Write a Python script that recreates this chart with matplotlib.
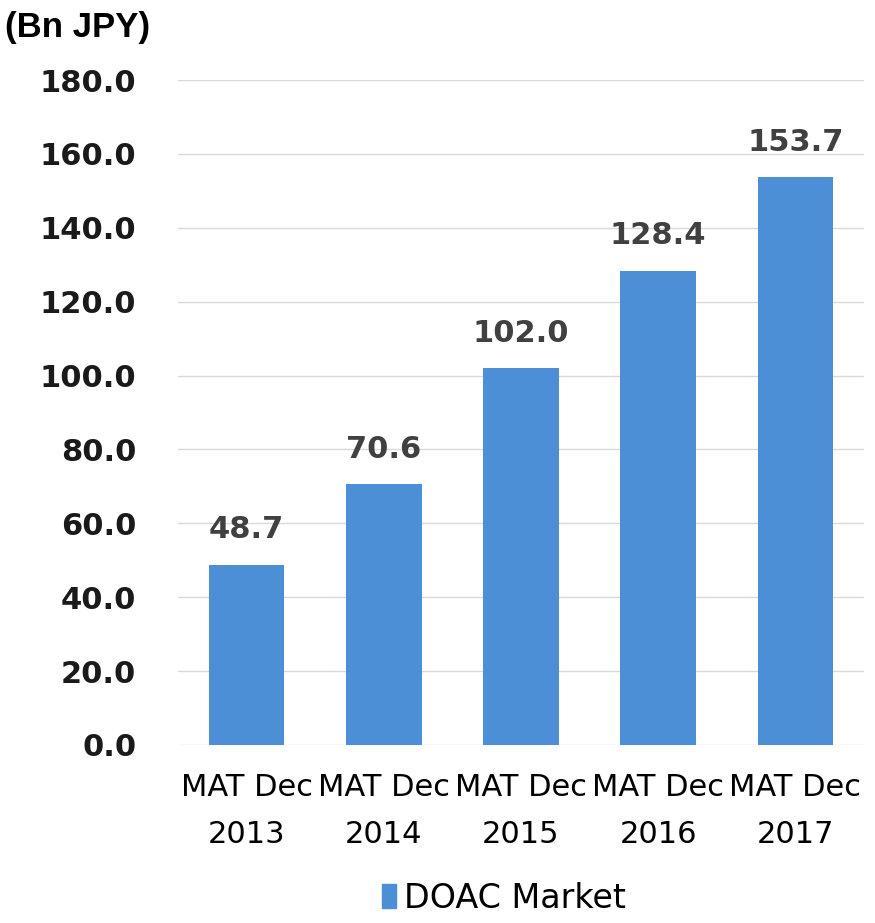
import matplotlib
matplotlib.use("Agg")
import matplotlib.pyplot as plt
from matplotlib.patches import Patch

# data
periods = ["MAT Dec\n2013", "MAT Dec\n2014", "MAT Dec\n2015", "MAT Dec\n2016", "MAT Dec\n2017"]
doac_market = [48.7, 70.6, 102.0, 128.4, 153.7]
y_ticks = [0, 20, 40, 60, 80, 100, 120, 140, 160, 180]

BAR = "#4C8FD6"

fig = plt.figure(figsize=(8.75, 9.23), dpi=100)
ax = fig.add_axes([178 / 875, 1 - 745 / 923, (864 - 178) / 875, (745 - 80) / 923])

x = range(len(periods))
bars = ax.bar(x, doac_market, width=0.55, color=BAR, zorder=2)
for b, v in zip(bars, doac_market):
    ax.text(b.get_x() + b.get_width() / 2, v + 9.5, f"{v:.1f}", ha="center", va="center",
            fontsize=22, fontweight="bold", color="#404040")

ax.set_ylim(0, 180)
ax.set_xlim(-0.5, len(periods) - 0.5)
ax.set_yticks(y_ticks)
ax.set_yticklabels([f"{v:.1f}" for v in y_ticks], fontsize=22, fontweight="bold", color="#1a1a1a")
ax.set_xticks(list(x))
ax.set_xticklabels(periods, fontsize=22, color="#000000", linespacing=1.8)
ax.tick_params(axis="y", length=0, pad=30)
ax.tick_params(axis="x", length=0, pad=20)
ax.yaxis.grid(True, color="#d9d9d9", lw=1, zorder=0)
for s in ax.spines.values():
    s.set_visible(False)

fig.text(5 / 875, 1 - 28 / 923, "(Bn JPY)", ha="left", va="center", fontsize=25,
         fontweight="bold", family="Liberation Sans")

fig.legend(handles=[Patch(color=BAR, label="DOAC Market")], loc="center",
           bbox_to_anchor=(504 / 875, 1 - 898 / 923), frameon=False, fontsize=24,
           handlelength=0.4, handleheight=0.7, handletextpad=0.25)

fig.savefig("out.png", dpi=100)
